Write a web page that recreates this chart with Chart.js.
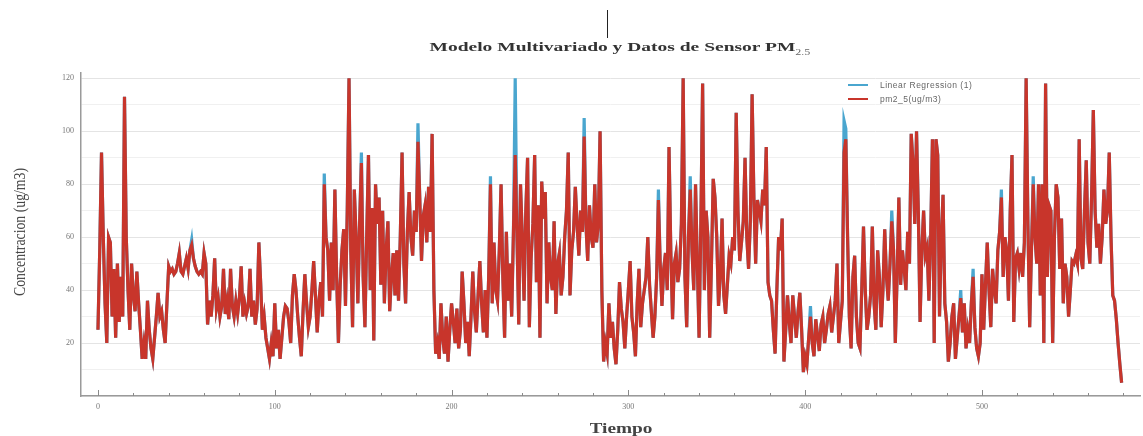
<!DOCTYPE html>
<html>
<head>
<meta charset="utf-8">
<script src="https://cdn.jsdelivr.net/npm/chart.js@4.4.0/dist/chart.umd.min.js"></script>
<style>
  html,body{margin:0;padding:0;background:#fff;}
  #wrap{position:relative;width:1143px;height:436px;overflow:hidden;}
  #c{position:absolute;left:0;top:0;}
  .title{position:absolute;left:320px;top:39px;width:600px;text-align:center;font-family:'Liberation Serif',serif;font-weight:bold;font-size:13px;color:#333;}
  .title span.in{display:inline-block;transform:scaleX(1.5);transform-origin:center;}
  .title sub{font-size:8px;font-weight:normal;color:#666;}
  .ytitle{position:absolute;left:20px;top:232px;font-family:'Liberation Serif',serif;font-size:16px;color:#444;white-space:nowrap;transform:translate(-50%,-50%) rotate(-90deg) scaleX(0.86);}
  .xtitle{position:absolute;left:621px;top:429px;font-family:'Liberation Serif',serif;font-weight:bold;font-size:14px;color:#444;white-space:nowrap;transform:translate(-50%,-50%) scaleX(1.38);}
  .marker{position:absolute;left:607px;top:10px;width:1px;height:28px;background:#222;}
  .legend{position:absolute;left:848px;top:79px;font-family:'Liberation Sans',sans-serif;font-size:8.5px;color:#666;letter-spacing:0.5px;}
  .legend .row{position:relative;height:14px;line-height:12px;}
  .legend .sw{position:absolute;left:0;top:5px;width:20px;height:2px;}
  .legend .tx{position:absolute;left:32px;top:0;white-space:nowrap;}
</style>
</head>
<body>
<div id="wrap">
  <canvas id="c" width="1143" height="436"></canvas>
  <div class="marker"></div>
  <div class="title"><span class="in">Modelo Multivariado y Datos de Sensor PM<sub>2.5</sub></span></div>
  <div class="ytitle">Concentracion (ug/m3)</div>
  <div class="xtitle">Tiempo</div>
  <div class="legend">
    <div class="row"><div class="sw" style="background:#4aa6cf"></div><div class="tx">Linear Regression (1)</div></div>
    <div class="row"><div class="sw" style="background:#c8352b"></div><div class="tx">pm2_5(ug/m3)</div></div>
  </div>
</div>
<script>
const seriesNames = ['Linear Regression (1)', 'pm2_5(ug/m3)'];
const yTicks = [20, 40, 60, 80, 100, 120];
const xTicks = [0, 100, 200, 300, 400, 500];

const pm25 = [
25,55,92,60,35,20,60,58,30,48,22,50,28,45,30,113,60,40,25,50,
38,32,47,35,25,14,20,14,36,25,18,14,22,30,39,30,32,25,20,35,
49,47,48,46,47,50,54,47,46,49,52,48,55,57,52,49,47,46,47,46,
54,50,27,36,30,38,52,33,37,30,34,48,31,36,29,48,34,30,36,31,
37,49,30,35,31,34,48,30,36,27,33,58,43,25,30,22,18,14,20,15,
35,18,25,14,22,30,34,33,28,20,38,46,40,30,22,15,32,46,35,26,
30,40,51,38,24,36,43,30,80,60,55,36,58,40,78,45,20,42,55,63,
34,70,120,55,26,78,60,35,65,88,45,26,60,91,40,71,21,80,65,75,
42,70,35,55,66,32,45,54,38,55,36,60,92,50,35,62,77,60,53,70,
62,96,75,51,68,72,58,79,62,99,40,16,20,14,35,22,16,30,13,25,
35,28,20,33,18,25,47,35,20,28,15,30,47,32,24,38,51,35,24,40,
22,45,80,35,58,40,36,55,80,45,22,62,36,50,30,62,91,60,27,80,
60,36,70,90,26,52,65,91,43,72,22,81,67,77,35,58,45,40,66,31,
50,54,38,45,60,70,92,38,55,62,79,65,53,70,62,98,65,51,72,60,
56,80,58,65,100,40,13,20,16,35,22,28,18,12,25,43,33,28,18,30,
40,51,30,24,15,35,48,26,35,40,45,60,42,32,22,30,45,74,50,34,
48,54,40,94,55,29,50,54,43,48,65,120,45,26,60,78,55,40,80,50,
22,65,118,40,70,60,22,50,82,75,60,34,45,67,38,31,42,53,50,60,
55,107,70,51,58,66,90,60,48,66,114,75,50,74,70,66,78,72,94,43,
38,36,25,16,40,60,55,67,13,25,38,28,20,38,30,22,32,39,25,9,
15,12,22,30,20,15,29,23,17,27,30,20,25,31,34,24,30,36,50,20,
28,36,92,97,60,30,18,45,53,30,20,18,40,64,40,25,30,38,64,35,
25,55,45,26,40,63,45,36,50,66,55,20,45,75,42,55,48,40,62,50,
99,88,65,100,70,28,55,70,53,56,36,60,97,20,97,91,30,60,76,35,
28,13,20,30,35,14,22,30,37,24,35,18,25,20,35,45,26,18,15,20,
46,25,42,58,40,26,48,40,35,55,62,75,45,60,55,36,70,91,28,52,
54,48,54,45,58,120,65,26,55,80,60,50,80,38,80,20,118,45,72,70,
20,60,80,75,48,67,35,50,45,30,40,51,50,53,50,97,52,48,70,89,
58,50,75,108,70,56,65,50,60,78,65,70,92,60,38,36,29,20,12,5
];

const regression = [
25,55,92,60,35,20,60,58,30,48,22,50,28,45,30,113,60,40,25,50,
38,32,47,35,25,14,20,14,36,25,18,14,22,30,39,30,32,25,20,35,
49,47,48,46,47,50,54,47,46,49,52,48,55,59,52,49,47,46,47,46,
54,50,27,36,30,38,52,33,37,30,34,48,31,36,29,48,34,30,36,31,
37,49,30,35,31,34,48,30,36,27,33,58,43,25,30,22,18,14,20,15,
35,18,25,14,22,30,34,33,28,20,38,46,40,30,22,15,32,46,35,26,
30,40,51,38,24,36,43,30,84,60,55,36,58,40,78,45,20,42,55,63,
34,70,120,55,26,78,60,35,65,92,45,26,60,91,40,71,21,80,65,75,
42,70,35,55,66,32,45,54,38,55,36,60,92,50,35,62,77,60,53,70,
62,103,75,51,68,72,58,79,62,99,40,16,20,14,35,22,16,30,13,25,
35,28,20,33,18,25,47,35,20,28,15,30,47,32,24,38,51,35,24,40,
22,45,83,35,58,40,36,55,80,45,22,62,36,50,30,62,120,60,27,80,
60,36,70,90,26,52,65,91,43,72,22,81,67,77,35,58,45,40,66,31,
50,54,38,45,60,70,92,38,55,62,79,65,53,70,62,105,65,51,72,60,
56,80,58,65,100,40,13,20,16,35,22,28,18,12,25,43,33,28,18,30,
40,51,30,24,15,35,48,26,35,40,45,60,42,32,22,30,45,78,50,34,
48,54,40,94,55,29,50,54,43,48,65,120,45,26,60,83,55,40,80,50,
22,65,118,40,70,60,22,50,82,75,60,34,45,67,38,31,42,53,50,60,
55,107,70,51,58,66,90,60,48,66,114,75,50,74,70,66,78,72,94,43,
38,36,25,16,40,60,55,67,13,25,38,28,20,38,30,22,32,39,25,9,
15,12,22,34,20,15,29,23,17,27,30,20,25,31,34,24,30,36,50,20,
28,36,104,101,60,30,18,45,53,30,20,18,40,64,40,25,30,38,64,35,
25,55,45,26,40,63,45,36,50,70,55,20,45,75,42,55,48,40,62,50,
99,88,65,100,70,28,55,70,53,56,36,60,97,20,97,91,30,60,76,35,
28,13,20,30,35,14,22,30,40,24,35,18,25,20,35,48,26,18,15,20,
46,25,42,58,40,26,48,40,35,55,62,78,45,60,55,36,70,91,28,52,
54,48,54,45,58,120,65,26,55,83,60,50,80,38,80,20,118,45,72,70,
20,60,80,75,48,67,35,50,45,30,40,51,50,53,50,97,52,48,70,89,
58,50,75,108,70,56,65,50,60,78,65,70,92,60,38,36,29,20,12,5
];

const toPoints = arr => arr.map((v, i) => ({x: i, y: v}));

const innerTicks = {
  id: 'innerTicks',
  afterDraw(chart) {
    const xs = chart.scales.x, ctx = chart.ctx;
    const bottom = chart.chartArea.bottom;
    ctx.save();
    ctx.strokeStyle = '#8a8a8a';
    ctx.lineWidth = 1;
    xs.ticks.forEach(t => {
      const px = Math.round(xs.getPixelForValue(t.value)) + 0.5;
      const len = xTicks.includes(t.value) ? 6 : 3;
      ctx.beginPath();
      ctx.moveTo(px, bottom);
      ctx.lineTo(px, bottom - len);
      ctx.stroke();
    });
    ctx.restore();
  }
};

new Chart(document.getElementById('c'), {
  type: 'line',
  data: {
    datasets: [
      {label: seriesNames[0], data: toPoints(regression), borderColor: '#4aa6cf', borderWidth: 3.2, pointRadius: 0, tension: 0, order: 2},
      {label: seriesNames[1], data: toPoints(pm25), borderColor: '#c8352b', borderWidth: 3.2, pointRadius: 0, tension: 0, order: 1}
    ]
  },
  options: {
    responsive: false,
    animation: false,
    layout: {padding: {left: 0, right: 3, top: 73, bottom: 0}},
    plugins: {legend: {display: false}, tooltip: {enabled: false}, title: {display: false}},
    scales: {
      x: {
        type: 'linear', min: -9.6, max: 589.4,
        afterFit(s) { s.height = 40; },
        border: {display: true, color: '#9a9a9a', width: 1.5},
        grid: {display: false, drawTicks: false},
        ticks: {
          stepSize: 20, includeBounds: false, autoSkip: false, maxRotation: 0, padding: 6,
          color: '#777', font: {family: 'Liberation Serif', size: 8},
          callback: v => xTicks.includes(v) ? String(v) : ''
        }
      },
      y: {
        type: 'linear', min: 0, max: 122,
        afterFit(s) { s.width = 81; },
        border: {display: true, color: '#9a9a9a', width: 1.5},
        grid: {drawTicks: false, color: ctx => (ctx.tick && yTicks.includes(ctx.tick.value)) ? '#e4e4e4' : '#f0f0f0', lineWidth: 1},
        ticks: {
          stepSize: 10, includeBounds: false, autoSkip: false, padding: 7,
          color: '#777', font: {family: 'Liberation Serif', size: 8},
          callback: v => yTicks.includes(v) ? String(v) : ''
        }
      }
    }
  },
  plugins: [innerTicks]
});
</script>
</body>
</html>
